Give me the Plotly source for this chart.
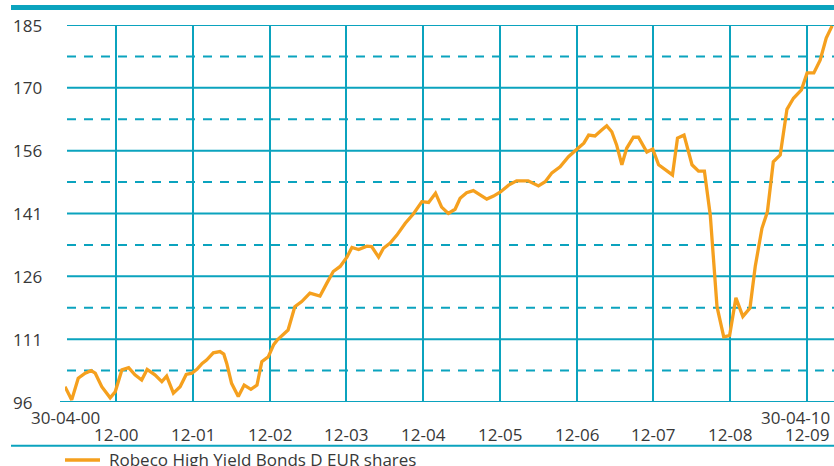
import plotly.graph_objects as go
import numpy as np

# ---------------- data ----------------
dates = [
    "2000-04-30", "2000-06-01", "2000-07-02", "2000-08-04", "2000-09-01", "2000-09-21",
    "2000-10-22", "2000-12-01", "2000-12-25", "2001-01-26", "2001-02-27", "2001-03-29",
    "2001-04-30", "2001-05-26", "2001-07-02", "2001-08-04", "2001-08-27", "2001-09-28",
    "2001-10-30", "2001-11-28", "2001-12-25", "2002-01-18", "2002-02-12", "2002-03-05",
    "2002-04-06", "2002-05-08", "2002-05-26", "2002-06-09", "2002-07-02", "2002-08-03",
    "2002-08-31", "2002-10-02", "2002-10-31", "2002-11-23", "2002-12-24", "2003-01-18",
    "2003-02-04", "2003-03-28", "2003-04-29", "2003-06-01", "2003-07-10", "2003-08-27",
    "2003-09-28", "2003-10-29", "2003-12-01", "2004-01-02", "2004-01-26", "2004-02-27",
    "2004-04-06", "2004-04-29", "2004-06-01", "2004-06-24", "2004-07-26", "2004-08-27",
    "2004-10-06", "2004-11-15", "2004-12-24", "2005-01-25", "2005-02-27", "2005-03-28",
    "2005-04-29", "2005-05-31", "2005-06-24", "2005-07-25", "2005-08-26", "2005-09-28",
    "2005-10-29", "2005-11-30", "2006-01-02", "2006-02-10", "2006-03-20", "2006-05-14",
    "2006-06-08", "2006-07-02", "2006-08-03", "2006-09-04", "2006-10-13", "2006-11-22",
    "2007-01-02", "2007-02-03", "2007-02-26", "2007-03-28", "2007-04-29", "2007-05-23",
    "2007-06-16", "2007-07-09", "2007-08-03", "2007-08-26", "2007-09-27", "2007-10-21",
    "2007-11-30", "2007-12-28", "2008-01-25", "2008-02-26", "2008-03-31", "2008-04-24",
    "2008-05-25", "2008-07-02", "2008-08-02", "2008-08-30", "2008-09-27", "2008-10-29",
    "2008-11-30", "2008-12-28", "2009-01-27", "2009-03-01", "2009-04-04", "2009-04-29",
    "2009-05-31", "2009-06-26", "2009-07-24", "2009-08-26", "2009-09-27", "2009-10-28",
    "2009-12-05", "2010-01-01", "2010-02-02", "2010-03-04", "2010-04-02", "2010-04-30",
]
values = [
    99.6, 96.5, 101.6, 102.8, 103.4, 102.8,
    99.6, 97.0, 98.4, 103.6, 104.1, 102.4,
    101.2, 103.7, 102.4, 100.8, 102.1, 98.1,
    99.6, 102.5, 102.8, 103.7, 105.1, 105.9,
    107.6, 107.9, 107.3, 105.1, 100.4, 97.3,
    100.0, 99.0, 100.0, 105.5, 106.7, 109.5,
    110.6, 113.0, 118.5, 119.7, 121.7, 121.0,
    124.0, 126.8, 128.0, 130.2, 132.5, 132.0,
    132.8, 132.7, 130.2, 132.3, 133.5, 135.4,
    138.2, 140.5, 143.3, 143.1, 145.3, 142.0,
    140.5, 141.5, 144.1, 145.4, 145.9, 144.9,
    143.9, 144.6, 145.6, 147.2, 148.2, 148.2,
    147.6, 147.0, 148.0, 150.1, 151.5, 153.9,
    155.7, 157.1, 159.0, 158.8, 160.2, 161.2,
    159.8, 156.7, 152.0, 155.9, 158.5, 158.5,
    155.0, 155.7, 152.0, 150.8, 149.6, 158.3,
    159.0, 152.0, 150.5, 150.5, 140.1, 118.5,
    111.4, 111.7, 120.6, 116.2, 118.2, 128.0,
    137.0, 140.9, 152.7, 154.3, 165.1, 167.7,
    169.7, 173.7, 173.7, 176.7, 181.9, 184.8,
]
series_name = "Robeco High Yield Bonds D EUR shares"

y_min, y_max = 96, 185
y_tick_labels = ["96", "111", "126", "141", "156", "170", "185"]
x_tick_dates = ["2000-12-31", "2001-12-31", "2002-12-31", "2003-12-31", "2004-12-31",
                "2005-12-31", "2006-12-31", "2007-12-31", "2008-12-31", "2009-12-31"]
x_tick_labels = ["12-00", "12-01", "12-02", "12-03", "12-04",
                 "12-05", "12-06", "12-07", "12-08", "12-09"]
start_date, start_label = "2000-04-30", "30-04-00"
end_date, end_label = "2010-04-30", "30-04-10"

# ---------------- style ----------------
TEAL = "#0ba3be"
ORANGE = "#f5a01e"
TEXT = "#383838"
FONT = "Open Sans"
FS = 17
W, H = 834, 466
L, R, T, B = 65, 0, 25, 64
pw, ph = W - L - R, H - T - B


def px_x(p):
    return (p - L) / pw


def px_y(p):
    return (H - B - p) / ph


y_levels = np.linspace(y_min, y_max, len(y_tick_labels))
y_halves = (y_levels[:-1] + y_levels[1:]) / 2

fig = go.Figure()
fig.add_trace(go.Scatter(
    x=dates, y=values, mode="lines", name=series_name,
    line=dict(color=ORANGE, width=3.3), cliponaxis=False, showlegend=False,
    hoverinfo="skip",
))

shapes = []
for lv in y_levels[1:]:
    shapes.append(dict(type="line", xref="paper", yref="y", x0=px_x(67), x1=1,
                       y0=lv, y1=lv, line=dict(color=TEAL, width=2), layer="below"))
for lv in y_halves:
    shapes.append(dict(type="line", xref="paper", yref="y", x0=px_x(67), x1=1,
                       y0=lv, y1=lv, line=dict(color=TEAL, width=2, dash="9px,8px"),
                       layer="below"))
# bottom axis line
shapes.append(dict(type="line", xref="paper", yref="y", x0=px_x(60), x1=1,
                   y0=y_min, y1=y_min, line=dict(color=TEAL, width=2), layer="below"))
# decorative top and bottom rules
shapes.append(dict(type="line", xref="paper", yref="paper", x0=px_x(11), x1=1,
                   y0=px_y(7.5), y1=px_y(7.5), line=dict(color=TEAL, width=5)))
shapes.append(dict(type="line", xref="paper", yref="paper", x0=px_x(11), x1=1,
                   y0=px_y(445.7), y1=px_y(445.7), line=dict(color=TEAL, width=2)))
# legend swatch
shapes.append(dict(type="line", xref="paper", yref="paper", x0=px_x(65), x1=px_x(100),
                   y0=px_y(460), y1=px_y(460), line=dict(color=ORANGE, width=3.3)))

annotations = []
for lv, lab in zip(y_levels, y_tick_labels):
    annotations.append(dict(text=lab, xref="paper", yref="y", x=px_x(11), y=lv,
                            xanchor="left", yanchor="middle", showarrow=False))
for d, lab in zip(x_tick_dates, x_tick_labels):
    annotations.append(dict(text=lab, xref="x", yref="paper", x=d, y=px_y(434.5),
                            xanchor="center", yanchor="middle", showarrow=False))
annotations.append(dict(text=start_label, xref="x", yref="paper", x=start_date, y=px_y(417.5),
                        xanchor="center", yanchor="middle", showarrow=False))
annotations.append(dict(text=end_label, xref="x", yref="paper", x=end_date, y=px_y(417.5),
                        xanchor="right", yanchor="middle", showarrow=False, xshift=0))
annotations.append(dict(text=series_name, xref="paper", yref="paper", x=px_x(107),
                        y=px_y(459), xanchor="left", yanchor="middle", showarrow=False))

fig.update_layout(
    width=W, height=H,
    margin=dict(l=L, r=R, t=T, b=B, pad=0),
    paper_bgcolor="white", plot_bgcolor="white",
    font=dict(family=FONT, size=FS, color=TEXT),
    xaxis=dict(type="date", range=["2000-04-30", "2010-05-09"], tickvals=x_tick_dates,
               showticklabels=False, showgrid=True, gridcolor=TEAL, gridwidth=2,
               zeroline=False, showline=False, ticks=""),
    yaxis=dict(range=[y_min, y_max], showticklabels=False, showgrid=False,
               zeroline=False, showline=False, ticks=""),
    shapes=shapes, annotations=annotations,
    showlegend=False,
)

fig.write_html("out.html", config={"displayModeBar": False},
               post_script="document.body.style.margin='0';")
